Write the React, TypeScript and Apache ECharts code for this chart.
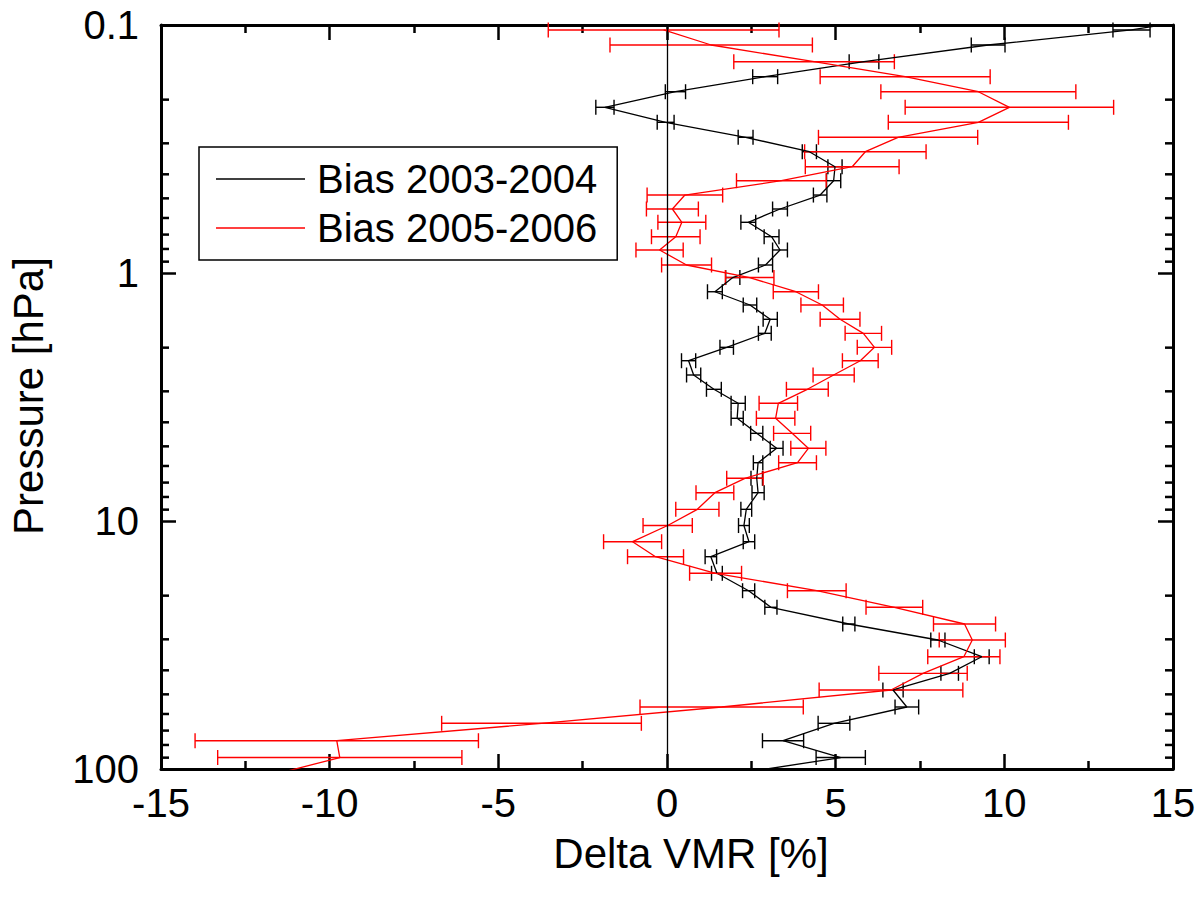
import React, { useEffect, useRef } from "react";
import * as echarts from "echarts";

// Pressure levels (hPa), top to bottom; the first and last lie just outside the plotted range
const pressureLevels = [
  0.0911, 0.1047, 0.1204, 0.1406, 0.1616, 0.1858, 0.2147, 0.2468, 0.2837, 0.3243,
  0.3727, 0.4245, 0.4849, 0.552, 0.6245, 0.714, 0.8076, 0.9284, 1.043, 1.19,
  1.346, 1.537, 1.751, 1.994, 2.258, 2.578, 2.944, 3.353, 3.854, 4.431,
  5.092, 5.821, 6.727, 7.69, 8.973, 10.43, 12.12, 13.93, 16.25, 19.1,
  22.28, 26.02, 30.19, 35.26, 41.14, 48.02, 56.23, 65.43, 76.91, 89.89, 104.8,
];

// Bias 2003-2004 (black), Delta VMR [%]
const bias0304 = [
  16.5, 13.77, 9.52, 5.84, 2.91, 0.25, -1.84, -0.04, 2.33, 4.22,
  4.98, 4.94, 4.54, 3.35, 2.41, 3.1, 3.35, 2.92, 1.95, 1.42,
  2.46, 3.06, 2.9, 1.77, 0.64, 0.79, 1.39, 2.11, 2.08, 2.66,
  3.25, 2.7, 2.66, 2.7, 2.35, 2.28, 2.43, 1.3, 1.48, 2.42,
  3.08, 5.39, 8.03, 9.33, 8.38, 6.7, 7.11, 4.95, 3.44, 5.15, 2.0,
];
const bias0304Err = [
  null, 0.55, 0.5, 0.44, 0.37, 0.3, 0.27, 0.25, 0.22, 0.21,
  0.21, 0.21, 0.2, 0.22, 0.22, 0.22, 0.22, 0.21, 0.21, 0.22,
  0.2, 0.21, 0.19, 0.2, 0.21, 0.21, 0.22, 0.21, 0.18, 0.18,
  0.19, 0.14, 0.17, 0.18, 0.16, 0.16, 0.17, 0.17, 0.16, 0.18,
  0.18, 0.18, 0.21, 0.22, 0.26, 0.3, 0.35, 0.47, 0.61, 0.73, null,
];

// Bias 2005-2006 (red), Delta VMR [%]
const bias0506 = [
  null, -0.1, 1.31, 4.36, 7.06, 9.23, 10.15, 9.23, 6.85, 5.88,
  5.49, 3.39, 0.53, 0.16, 0.44, 0.26, -0.22, 0.58, 2.45, 3.82,
  4.6, 5.13, 5.82, 6.15, 5.73, 4.94, 4.16, 3.3, 3.22, 3.71,
  4.19, 3.87, 2.31, 1.42, 0.9, 0.02, -1.02, -0.34, 1.44, 4.44,
  6.74, 8.82, 9.05, 8.8, 7.59, 6.64, 1.62, -3.72, -9.79, -9.7, -11.6,
];
const bias0506Err = [
  null, 3.42, 3.0, 2.38, 2.52, 2.89, 3.09, 2.67, 2.36, 1.8,
  1.39, 1.33, 1.12, 0.77, 0.71, 0.72, 0.7, 0.74, 0.72, 0.67,
  0.63, 0.59, 0.54, 0.51, 0.53, 0.61, 0.62, 0.57, 0.57, 0.55,
  0.52, 0.56, 0.54, 0.56, 0.64, 0.73, 0.86, 0.83, 0.77, 0.87,
  0.84, 0.92, 0.98, 1.07, 1.31, 2.13, 2.42, 2.96, 4.2, 3.62, null,
];

const seriesNames = ["Bias 2003-2004", "Bias 2005-2006"];
const xTitle = "Delta VMR [%]";
const yTitle = "Pressure [hPa]";
const xMin = -15;
const xMax = 15;
const xStep = 5;
const yMin = 0.1;
const yMax = 100;
const yMinorTicks = [
  0.2, 0.3, 0.4, 0.5, 0.6, 0.7, 0.8, 0.9,
  2, 3, 4, 5, 6, 7, 8, 9,
  20, 30, 40, 50, 60, 70, 80, 90,
];

const FONT = '"Liberation Sans", Arial, Helvetica, sans-serif';
const BLACK = "#000000";
const RED = "#ff0000";

function lineData(vals: (number | null)[]) {
  return vals.map((v, i) => (v === null ? [null, pressureLevels[i]] : [v, pressureLevels[i]]));
}
function errData(vals: (number | null)[], errs: (number | null)[]) {
  const out: number[][] = [];
  vals.forEach((v, i) => {
    const e = errs[i];
    if (v !== null && e !== null) out.push([v, e, pressureLevels[i]]);
  });
  return out;
}

function errRenderer(color: string) {
  return (params: any, api: any) => {
    const v = api.value(0);
    const e = api.value(1);
    const p = api.value(2);
    const a = api.coord([v - e, p]);
    const b = api.coord([v + e, p]);
    const h = 7.5;
    const style = { stroke: color, lineWidth: 1.4, fill: null };
    return {
      type: "group",
      children: [
        { type: "line", shape: { x1: a[0], y1: a[1], x2: b[0], y2: b[1] }, style },
        { type: "line", shape: { x1: a[0], y1: a[1] - h, x2: a[0], y2: a[1] + h }, style },
        { type: "line", shape: { x1: b[0], y1: b[1] - h, x2: b[0], y2: b[1] + h }, style },
      ],
    };
  };
}

export default function App() {
  const ref = useRef<HTMLDivElement>(null);

  useEffect(() => {
    if (!ref.current) return;
    const chart = echarts.init(ref.current, null, { renderer: "svg" });

    const xBase: any = {
      type: "value",
      min: xMin,
      max: xMax,
      interval: xStep,
      axisLine: { show: true, onZero: false, lineStyle: { color: BLACK, width: 3 } },
      axisTick: { show: true, inside: true, length: 15, lineStyle: { color: BLACK, width: 2.5 } },
      minorTick: { show: true, splitNumber: 2, length: 8, lineStyle: { color: BLACK, width: 2.5 } },
      splitLine: { show: false },
      minorSplitLine: { show: false },
    };
    const yBase: any = {
      type: "log",
      logBase: 10,
      min: yMin,
      max: yMax,
      inverse: true,
      axisLine: { show: true, onZero: false, lineStyle: { color: BLACK, width: 3 } },
      axisTick: { show: true, inside: true, length: 15, lineStyle: { color: BLACK, width: 2.5 } },
      minorTick: { show: false },
      splitLine: { show: false },
    };

    const option: any = {
      animation: false,
      backgroundColor: "#ffffff",
      grid: { left: 161, right: 26, top: 25, bottom: 132, containLabel: false },
      xAxis: [
        {
          ...xBase,
          position: "bottom",
          axisLabel: { show: true, margin: 14, fontSize: 40, color: BLACK, fontFamily: FONT },
        },
        { ...xBase, position: "top", axisLabel: { show: false } },
      ],
      yAxis: [
        {
          ...yBase,
          position: "left",
          axisLabel: { show: true, margin: 22, fontSize: 40, color: BLACK, fontFamily: FONT },
        },
        { ...yBase, position: "right", axisLabel: { show: false } },
      ],
      legend: {
        data: seriesNames,
        orient: "vertical",
        left: 199,
        top: 147,
        icon: "rect",
        itemWidth: 89,
        itemHeight: 1.3,
        itemGap: 9,
        padding: [12, 20, 12, 17],
        borderColor: BLACK,
        borderWidth: 1.5,
        borderRadius: 0,
        backgroundColor: "#ffffff",
        textStyle: { fontSize: 40, lineHeight: 40, color: BLACK, fontFamily: FONT, padding: [0, 0, 0, 7] },
        selectedMode: false,
      },
      graphic: [
        {
          type: "text",
          x: 691,
          y: 853,
          silent: true,
          style: {
            text: xTitle,
            fontSize: 42,
            fontFamily: FONT,
            fill: BLACK,
            align: "center",
            verticalAlign: "middle",
          },
        },
        {
          type: "text",
          x: 28.5,
          y: 396,
          rotation: Math.PI / 2,
          silent: true,
          style: {
            text: yTitle,
            fontSize: 42,
            fontFamily: FONT,
            fill: BLACK,
            align: "center",
            verticalAlign: "middle",
          },
        },
      ],
      series: [
        {
          name: "y minor ticks",
          type: "custom",
          silent: true,
          data: yMinorTicks.map((p) => [0, p]),
          encode: { x: 0, y: 1 },
          renderItem: (params: any, api: any) => {
            const pt = api.coord([0, api.value(1)]);
            const cs = params.coordSys;
            const style = { stroke: BLACK, lineWidth: 2.5 };
            return {
              type: "group",
              children: [
                { type: "line", shape: { x1: cs.x, y1: pt[1], x2: cs.x + 8, y2: pt[1] }, style },
                {
                  type: "line",
                  shape: { x1: cs.x + cs.width - 8, y1: pt[1], x2: cs.x + cs.width, y2: pt[1] },
                  style,
                },
              ],
            };
          },
          z: 1,
        },
        {
          name: seriesNames[0],
          type: "line",
          data: lineData(bias0304),
          showSymbol: false,
          symbol: "none",
          clip: true,
          connectNulls: false,
          color: BLACK,
          lineStyle: { color: BLACK, width: 1.3 },
          markLine: {
            silent: true,
            symbol: ["none", "none"],
            label: { show: false },
            lineStyle: { color: BLACK, width: 1.3, type: "solid" },
            data: [{ xAxis: 0 }],
          },
          z: 3,
        },
        {
          name: seriesNames[1],
          type: "line",
          data: lineData(bias0506),
          showSymbol: false,
          symbol: "none",
          clip: true,
          connectNulls: false,
          color: RED,
          lineStyle: { color: RED, width: 1.3 },
          z: 3,
        },
        {
          name: "err 2003-2004",
          type: "custom",
          silent: true,
          data: errData(bias0304, bias0304Err),
          encode: { x: 0, y: 2 },
          renderItem: errRenderer(BLACK),
          z: 2,
        },
        {
          name: "err 2005-2006",
          type: "custom",
          silent: true,
          data: errData(bias0506, bias0506Err),
          encode: { x: 0, y: 2 },
          renderItem: errRenderer(RED),
          z: 2,
        },
      ],
    };

    chart.setOption(option);
    return () => chart.dispose();
  }, []);

  return (
    <div
      ref={ref}
      style={{ position: "fixed", left: 0, top: 0, width: 1199, height: 901, background: "#fff" }}
    />
  );
}
